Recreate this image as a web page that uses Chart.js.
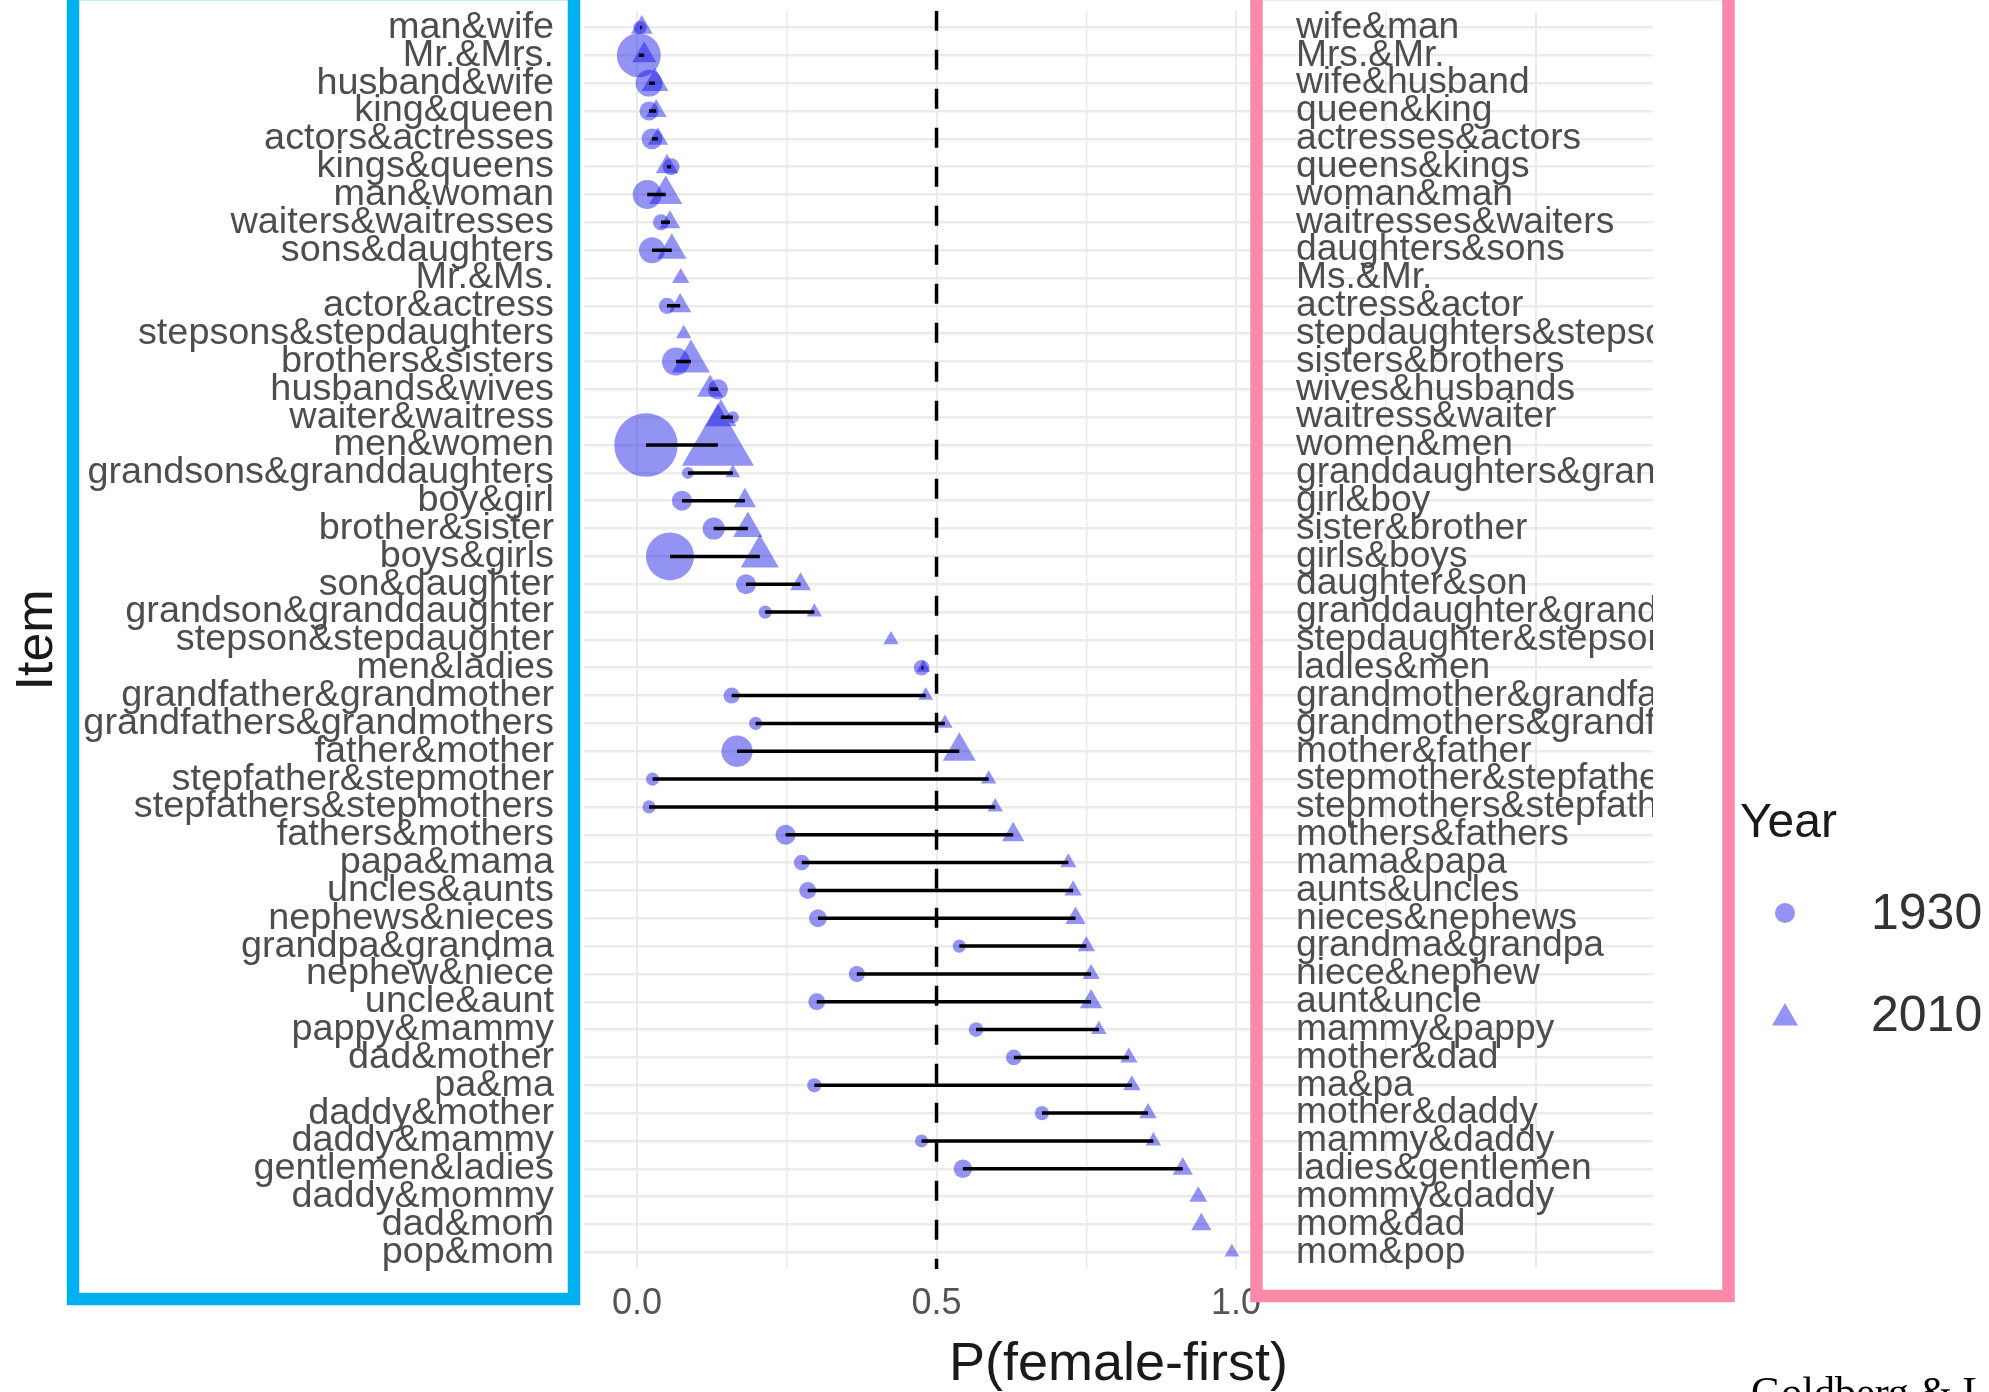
<!DOCTYPE html>
<html>
<head>
<meta charset="utf-8">
<script src="https://cdn.jsdelivr.net/npm/chart.js@4.4.1/dist/chart.umd.min.js"></script>
<style>
  html, body { margin: 0; padding: 0; background: #fff; }
</style>
</head>
<body>
<canvas id="myChart" width="1989" height="1392"></canvas>
<script>
// male-first order (left labels)
const items = [
  'man&wife', 'Mr.&Mrs.', 'husband&wife', 'king&queen', 'actors&actresses', 'kings&queens',
  'man&woman', 'waiters&waitresses', 'sons&daughters', 'Mr.&Ms.', 'actor&actress',
  'stepsons&stepdaughters', 'brothers&sisters', 'husbands&wives', 'waiter&waitress',
  'men&women', 'grandsons&granddaughters', 'boy&girl', 'brother&sister', 'boys&girls',
  'son&daughter', 'grandson&granddaughter', 'stepson&stepdaughter', 'men&ladies',
  'grandfather&grandmother', 'grandfathers&grandmothers', 'father&mother',
  'stepfather&stepmother', 'stepfathers&stepmothers', 'fathers&mothers', 'papa&mama',
  'uncles&aunts', 'nephews&nieces', 'grandpa&grandma', 'nephew&niece', 'uncle&aunt',
  'pappy&mammy', 'dad&mother', 'pa&ma', 'daddy&mother', 'daddy&mammy', 'gentlemen&ladies',
  'daddy&mommy', 'dad&mom', 'pop&mom'
];

// female-first order (right labels)
const itemsFemaleFirst = [
  'wife&man', 'Mrs.&Mr.', 'wife&husband', 'queen&king', 'actresses&actors', 'queens&kings',
  'woman&man', 'waitresses&waiters', 'daughters&sons', 'Ms.&Mr.', 'actress&actor',
  'stepdaughters&stepsons', 'sisters&brothers', 'wives&husbands', 'waitress&waiter',
  'women&men', 'granddaughters&grandsons', 'girl&boy', 'sister&brother', 'girls&boys',
  'daughter&son', 'granddaughter&grandson', 'stepdaughter&stepson', 'ladies&men',
  'grandmother&grandfather', 'grandmothers&grandfathers', 'mother&father',
  'stepmother&stepfather', 'stepmothers&stepfathers', 'mothers&fathers', 'mama&papa',
  'aunts&uncles', 'nieces&nephews', 'grandma&grandpa', 'niece&nephew', 'aunt&uncle',
  'mammy&pappy', 'mother&dad', 'ma&pa', 'mother&daddy', 'mammy&daddy', 'ladies&gentlemen',
  'mommy&daddy', 'mom&dad', 'mom&pop'
];

// P(female-first)
const p1930 = [
  0.005, 0.003, 0.020, 0.020, 0.025, 0.057, 0.017, 0.040, 0.025, null, 0.050,
  null, 0.065, 0.135, 0.160, 0.015, 0.085, 0.075, 0.128, 0.055, 0.182, 0.214,
  null, 0.475, 0.158, 0.198, 0.167, 0.026, 0.020, 0.248, 0.275, 0.285, 0.302,
  0.538, 0.367, 0.300, 0.566, 0.629, 0.296, 0.676, 0.475, 0.544, null, null, null
];
const p2010 = [
  0.008, 0.012, 0.030, 0.032, 0.035, 0.050, 0.048, 0.055, 0.058, 0.073, 0.072,
  0.078, 0.090, 0.122, 0.140, 0.135, 0.160, 0.180, 0.185, 0.205, 0.273, 0.296,
  0.424, 0.478, 0.482, 0.514, 0.538, 0.587, 0.598, 0.628, 0.720, 0.728, 0.732,
  0.750, 0.758, 0.758, 0.771, 0.821, 0.826, 0.853, 0.862, 0.911, 0.937, 0.942, 0.993
];

// relative frequency (marker area)
const freq1930 = [
  1.2, 13.4, 5, 2.5, 3, 2, 5.8, 1.8, 4.7, null, 1.8,
  null, 5.4, 2.8, 1, 28, 1, 2.8, 3.4, 16, 2.8, 1.2,
  null, 1.7, 1.8, 1.2, 6.8, 1.2, 1.2, 2.8, 1.7, 2, 2.2,
  1.2, 1.8, 2, 1.5, 1.7, 1.4, 1.4, 1.2, 2.4, null, null, null
];
const freq2010 = [
  2.2, 2.7, 3.3, 2, 1.9, 2.3, 5, 2, 4, 1.4, 2.3,
  1.1, 6.7, 3.1, 4.5, 24, 1, 2.3, 4, 6.7, 2, 1.1,
  1.1, 0.9, 1, 1.1, 5, 1.1, 1.1, 2.3, 1.2, 1.4, 1.9,
  1.4, 1.4, 2.3, 1.1, 1.4, 1.4, 1.4, 1.1, 1.9, 1.5, 1.9, 1
];

const years = ['1930', '2010'];
const xTicks = [0, 0.25, 0.5, 0.75, 1, 1.25, 1.5];
const xTickLabels = ['0.0', '', '0.5', '', '1.0', '', ''];
const refLine = 0.5;
const rightLabelX = 1.1;

const markColor = 'rgba(15,15,230,0.45)';
const fontFamily = '"Liberation Sans", Arial, Helvetica, sans-serif';

let pts1930 = [];
let pts2010 = [];
let segs = [];
items.forEach((name, i) => {
  if (p1930[i] != null) pts1930.push({ x: p1930[i], y: i, w: freq1930[i] });
  if (p2010[i] != null) pts2010.push({ x: p2010[i], y: i, w: freq2010[i] });
  if (p1930[i] != null && p2010[i] != null) {
    segs.push({ x: p1930[i], y: i }, { x: p2010[i], y: i }, { x: null, y: null });
  }
});

function drawTriangle(ctx, cx, cy, r) {
  ctx.beginPath();
  for (let k = 0; k < 3; k++) {
    let a = k * 2 * Math.PI / 3;
    let px = cx + Math.sin(a) * r;
    let py = cy - Math.cos(a) * r;
    if (k === 0) ctx.moveTo(px, py); else ctx.lineTo(px, py);
  }
  ctx.closePath();
  ctx.fill();
}

const overlay = {
  id: 'overlay',
  afterDatasetsDraw(chart) {
    const { ctx, chartArea, scales: { x, y } } = chart;
    // female-first labels inside the panel, clipped at its edge
    ctx.save();
    ctx.beginPath();
    ctx.rect(chartArea.left, chartArea.top, chartArea.right - chartArea.left, chartArea.bottom - chartArea.top);
    ctx.clip();
    ctx.font = '37.2px ' + fontFamily;
    ctx.fillStyle = '#4d4d4d';
    ctx.textAlign = 'left';
    ctx.textBaseline = 'middle';
    itemsFemaleFirst.forEach((t, i) => {
      ctx.fillText(t, x.getPixelForValue(rightLabelX), y.getPixelForValue(i));
    });
    ctx.restore();
  },
  afterDraw(chart) {
    const ctx = chart.ctx;
    ctx.save();

    // legend
    ctx.fillStyle = '#1a1a1a';
    ctx.font = '48px ' + fontFamily;
    ctx.textAlign = 'left';
    ctx.textBaseline = 'alphabetic';
    ctx.fillText('Year', 1740, 837);
    ctx.fillStyle = markColor;
    ctx.beginPath();
    ctx.arc(1785, 913, 10, 0, Math.PI * 2);
    ctx.fill();
    drawTriangle(ctx, 1785, 1018, 15);
    ctx.fillStyle = '#333';
    ctx.font = '50px ' + fontFamily;
    ctx.textBaseline = 'middle';
    ctx.fillText(years[0], 1871, 915);
    ctx.fillText(years[1], 1871, 1017);

    // highlight boxes
    ctx.lineWidth = 12.5;
    ctx.strokeStyle = '#00b0f0';
    ctx.strokeRect(73, -6, 501, 1305);
    ctx.strokeStyle = '#fd89aa';
    ctx.strokeRect(1256.5, -6, 472, 1302);

    // source note (cut off at the bottom edge)
    ctx.fillStyle = '#000';
    ctx.font = '42px "Liberation Serif", "Times New Roman", serif';
    ctx.textBaseline = 'alphabetic';
    ctx.fillText('Goldberg & Lee (2021)', 1751, 1406);
    ctx.restore();
  }
};

new Chart(document.getElementById('myChart'), {
  type: 'scatter',
  data: {
    datasets: [
      {
        label: 'segments',
        type: 'line',
        data: segs,
        borderColor: '#000',
        borderWidth: 3.5,
        borderCapStyle: 'butt',
        pointRadius: 0,
        spanGaps: false,
        order: 0
      },
      {
        label: years[0],
        data: pts1930,
        pointStyle: 'circle',
        backgroundColor: markColor,
        borderWidth: 0,
        pointRadius: c => 6 * Math.sqrt(c.raw.w),
        order: 1
      },
      {
        label: years[1],
        data: pts2010,
        pointStyle: 'triangle',
        backgroundColor: markColor,
        borderWidth: 0,
        pointRadius: c => 8.5 * Math.sqrt(c.raw.w),
        order: 2
      },
      {
        label: 'ref',
        type: 'line',
        data: [{ x: refLine, y: -0.6 }, { x: refLine, y: 44.6 }],
        borderColor: '#000',
        borderWidth: 3.5,
        borderDash: [20, 19],
        borderCapStyle: 'butt',
        pointRadius: 0,
        order: 3
      }
    ]
  },
  options: {
    responsive: false,
    animation: false,
    devicePixelRatio: 1,
    layout: { autoPadding: false, padding: { left: 0, right: 336, top: 10.8, bottom: 0 } },
    plugins: {
      legend: { display: false },
      tooltip: { enabled: false }
    },
    scales: {
      x: {
        type: 'linear',
        min: -0.0885,
        max: 1.696,
        afterBuildTicks: s => { s.ticks = xTicks.map(v => ({ value: v })); },
        afterFit: s => { s.height = 123; s.paddingLeft = 0; s.paddingRight = 0; },
        ticks: {
          autoSkip: false,
          maxRotation: 0,
          padding: 13,
          color: '#555',
          font: { family: fontFamily, size: 36 },
          callback: (v, idx) => xTickLabels[idx]
        },
        grid: {
          color: '#ebebeb',
          lineWidth: c => (c.index % 2 === 0 ? 2 : 1.5),
          drawTicks: false
        },
        border: { display: false },
        title: {
          display: true,
          text: 'P(female-first)',
          color: '#1a1a1a',
          padding: 0,
          font: { family: fontFamily, size: 54, lineHeight: 1 }
        }
      },
      y: {
        type: 'linear',
        reverse: true,
        min: -0.6,
        max: 44.6,
        afterBuildTicks: s => { s.ticks = items.map((n, i) => ({ value: i })); },
        afterFit: s => { s.width = 584; s.paddingTop = 0; s.paddingBottom = 0; },
        ticks: {
          autoSkip: false,
          padding: 30,
          color: '#4d4d4d',
          font: { family: fontFamily, size: 37.8 },
          callback: v => items[v]
        },
        grid: {
          color: '#ebebeb',
          lineWidth: 2.5,
          drawTicks: false
        },
        border: { display: false },
        title: {
          display: true,
          text: 'Item',
          color: '#1a1a1a',
          padding: { top: 12, bottom: 0 },
          font: { family: fontFamily, size: 52, lineHeight: 1 }
        }
      }
    }
  },
  plugins: [overlay]
});
</script>
</body>
</html>
